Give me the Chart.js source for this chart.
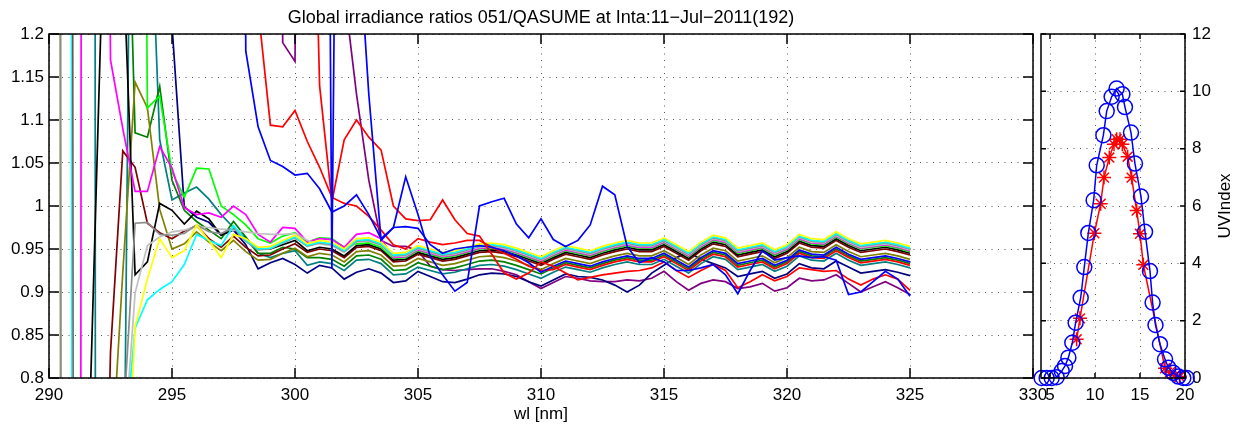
<!DOCTYPE html>
<html>
<head>
<meta charset="utf-8">
<script src="https://cdn.jsdelivr.net/npm/chart.js@4.4.0/dist/chart.umd.min.js"></script>
<style>
  html, body { margin: 0; padding: 0; background: #fff; }
  #wrap { position: relative; width: 1247px; height: 430px; overflow: hidden; }
  #main { position: absolute; left: 0; top: 0; }
  #uv { position: absolute; left: 1032px; top: 0; }
</style>
</head>
<body>
<div id="wrap">
  <canvas id="main" width="1060" height="430"></canvas>
  <canvas id="uv" width="215" height="430"></canvas>
</div>
<script>
// wavelength grid [nm]
const wl = [290, 290.5, 291, 291.5, 292, 292.5, 293, 293.5, 294, 294.5, 295, 295.5, 296, 296.5, 297, 297.5,
  298, 298.5, 299, 299.5, 300, 300.5, 301, 301.5, 302, 302.5, 303, 303.5, 304, 304.5, 305, 305.5,
  306, 306.5, 307, 307.5, 308, 308.5, 309, 309.5, 310, 310.5, 311, 311.5, 312, 312.5, 313, 313.5,
  314, 314.5, 315, 315.5, 316, 316.5, 317, 317.5, 318, 318.5, 319, 319.5, 320, 320.5, 321, 321.5,
  322, 322.5, 323, 323.5, 324, 324.5, 325];

// ratio series (values off the axis range are clipped)
const yellow = [0.5,0.5,0.5,0.5,0.5,0.5,0.55,0.86,0.915,0.962,0.94,0.948,0.978,0.96,0.94,0.967,
  0.962,0.952,0.953,0.960,0.966,0.956,0.960,0.958,0.950,0.962,0.963,0.958,0.945,0.946,0.954,0.950,0.946,0.948,0.952,0.956,0.957,0.955,0.951,0.946,0.941,0.948,0.954,0.951,0.948,0.953,0.957,0.960,0.957,0.957,0.963,0.955,0.947,0.958,0.966,0.963,0.951,0.954,0.957,0.949,0.955,0.967,0.962,0.961,0.970,0.962,0.956,0.958,0.960,0.957,0.953];
const cyan = [12,12,-1,0.3,0.3,0.3,0.7,0.858,0.891,0.903,0.912,0.932,0.967,0.96,0.954,0.977,
  0.960,0.950,0.951,0.958,0.964,0.954,0.958,0.956,0.948,0.960,0.961,0.956,0.943,0.944,0.952,0.948,0.944,0.946,0.950,0.954,0.955,0.953,0.949,0.944,0.939,0.946,0.952,0.949,0.946,0.951,0.955,0.958,0.955,0.955,0.961,0.953,0.945,0.956,0.964,0.961,0.949,0.952,0.955,0.947,0.953,0.965,0.960,0.959,0.968,0.960,0.954,0.956,0.958,0.955,0.951];
const gray = [19.8,-0.2,0.3,0.3,0.3,0.3,0.74,0.98,0.981,0.967,0.966,0.968,0.978,0.97,0.968,0.975,
  0.959,0.949,0.950,0.957,0.963,0.953,0.957,0.955,0.947,0.959,0.960,0.955,0.942,0.943,0.951,0.947,0.943,0.945,0.949,0.953,0.954,0.952,0.948,0.943,0.938,0.945,0.951,0.948,0.945,0.950,0.954,0.957,0.954,0.954,0.960,0.952,0.944,0.955,0.963,0.960,0.948,0.951,0.954,0.946,0.952,0.964,0.959,0.958,0.967,0.959,0.953,0.955,0.957,0.954,0.950];
const silver = [0.3,0.3,0.3,0.3,0.3,0.3,0.7,0.899,0.954,0.964,0.97,0.972,0.976,0.975,0.973,0.972,
  0.970,0.968,0.967,0.967,0.968,0.960,0.956,0.954,0.946,0.958,0.959,0.954,0.941,0.942,0.950,0.946,0.942,0.944,0.948,0.952,0.953,0.951,0.947,0.942,0.937,0.944,0.950,0.947,0.944,0.949,0.953,0.956,0.953,0.953,0.959,0.951,0.943,0.954,0.962,0.959,0.947,0.950,0.953,0.945,0.951,0.963,0.958,0.957,0.966,0.958,0.952,0.954,0.956,0.953,0.949];
const magenta = [-1,-1,-10,8.3,3,1.17,1.09,1.017,1.017,1.069,1.044,0.998,0.99,0.992,0.987,1.0,
  0.990,0.967,0.958,0.975,0.974,0.958,0.962,0.961,0.952,0.967,0.969,0.962,
  0.940,0.941,0.949,0.945,0.941,0.943,0.947,0.951,0.952,0.950,0.946,0.941,0.936,0.943,0.949,0.946,0.943,0.948,0.952,0.955,0.952,0.952,0.958,0.950,0.942,0.953,0.961,0.958,0.946,0.949,0.952,0.944,0.950,0.962,0.957,0.956,0.965,0.957,0.951,0.953,0.955,0.952,0.948];
const lime = [5,5,5,5,5,5,5,3,1.114,1.128,1.04,1.01,1.044,1.043,1.0,0.99,
  0.978,0.962,0.957,0.965,0.969,0.958,0.963,0.962,0.952,
  0.956,0.957,0.952,0.939,0.940,0.948,0.944,0.940,0.942,0.946,0.950,0.951,0.949,0.945,0.940,0.935,0.942,0.948,0.945,0.942,0.947,0.951,0.954,0.951,0.951,0.957,0.949,0.941,0.952,0.960,0.957,0.945,0.948,0.951,0.943,0.949,0.961,0.956,0.955,0.964,0.956,0.950,0.952,0.954,0.951,0.947];
const black = [0.3,0.3,0.3,0.6,1.1,1.6,1.3,0.92,0.935,1.003,0.995,0.979,0.994,0.985,0.966,0.973,
  0.962,0.950,0.950,0.955,0.960,
  0.948,0.952,0.950,0.942,0.954,0.955,0.950,0.937,0.938,0.946,0.942,0.938,0.940,0.944,0.948,0.949,0.947,0.943,0.938,0.933,0.940,0.946,0.943,0.940,0.945,0.949,0.952,0.949,0.949,0.955,0.947,0.939,0.950,0.958,0.955,0.943,0.946,0.949,0.941,0.947,0.959,0.954,0.953,0.962,0.954,0.948,0.950,0.952,0.949,0.945];
const maroon = [20,20,-0.5,-0.5,0.2,0.83,1.064,1.045,0.98,0.969,0.962,0.971,0.977,0.962,0.952,0.965,
  0.952,0.942,0.943,0.950,0.956,0.946,0.950,0.948,0.940,0.952,0.953,0.948,0.935,0.936,0.944,0.940,0.936,0.938,0.942,0.946,0.947,0.945,0.941,0.936,0.931,0.938,0.944,0.941,0.938,0.943,0.947,0.950,0.947,0.947,0.953,0.945,0.937,0.948,0.956,0.953,0.941,0.944,0.947,0.939,0.945,0.957,0.952,0.951,0.960,0.952,0.946,0.948,0.950,0.947,0.943];
const olive = [19.8,-0.2,-0.2,-0.2,-0.2,0.68,0.923,1.144,1.114,0.996,0.95,0.956,0.97,0.958,0.948,0.96,
  0.947,0.937,0.938,0.945,0.951,0.941,0.945,0.943,0.935,0.947,0.948,0.943,0.930,0.931,0.939,0.935,0.931,0.933,0.937,0.941,0.942,0.940,0.936,0.931,0.926,0.933,0.939,0.936,0.933,0.938,0.942,0.945,0.942,0.942,0.948,0.940,0.932,0.943,0.951,0.948,0.936,0.939,0.942,0.934,0.940,0.952,0.947,0.946,0.955,0.947,0.941,0.943,0.945,0.942,0.938];
const green = [5,5,5,5,5,5,1.6,1.085,1.08,1.139,1.03,0.995,0.982,0.972,0.962,0.982,
  0.964,0.945,0.945,0.952,0.950,0.940,
  0.940,0.938,0.930,0.942,0.943,0.938,0.925,0.926,0.934,0.930,0.926,0.928,0.932,0.936,0.937,0.935,0.931,0.926,0.921,0.928,0.934,0.931,0.928,0.933,0.937,0.940,0.937,0.937,0.943,0.935,0.927,0.938,0.946,0.943,0.931,0.934,0.937,0.929,0.935,0.947,0.942,0.941,0.950,0.942,0.936,0.938,0.940,0.937,0.933];
const teal = [20,20,20,20,-5,-1,0.5,2.0,1.45,1.077,1.007,1.015,1.022,1.008,0.99,0.975,
  0.962,0.945,0.940,0.945,0.948,
  0.931,0.935,0.933,0.925,0.937,0.938,0.933,0.920,0.921,0.929,0.925,0.921,0.923,0.927,0.931,0.932,0.930,0.926,0.921,0.916,0.923,0.929,0.926,0.923,0.928,0.932,0.935,0.932,0.932,0.938,0.930,0.922,0.933,0.941,0.938,0.926,0.929,0.932,0.924,0.930,0.942,0.937,0.936,0.945,0.937,0.931,0.933,0.935,0.932,0.928];
const navy = [3,3,3,3,3,3,3,3,3,3,1.21,0.999,0.987,0.981,0.966,0.972,
  0.955,0.927,0.934,0.939,0.932,0.922,0.931,0.928,0.915,0.923,0.927,0.922,0.911,0.913,0.924,
  0.918,0.912,0.911,0.915,0.920,0.922,0.921,0.918,0.912,0.907,0.914,0.921,0.918,0.917,0.914,
  0.908,0.900,0.908,0.922,0.931,0.940,0.946,0.938,0.933,0.928,0.918,0.921,0.924,0.916,0.921,
  0.933,0.928,0.927,0.936,0.929,0.922,0.924,0.926,0.923,0.919];
const purple = [3,3,3,3,3,3,3,3,3,3,3,3,3,3,3,3,3,3,3,
  1.19,1.168,3,3,3,1.25,1.13,1.03,0.96,0.953,0.953,0.948,0.93,0.926,0.925,0.926,0.927,0.927,0.924,0.92,0.912,0.904,
  0.911,0.918,0.916,0.913,0.912,0.912,0.914,0.913,0.916,0.924,0.912,0.902,0.91,0.914,0.912,
  0.904,0.906,0.91,0.901,0.905,0.916,0.913,0.914,0.92,0.91,0.9,0.906,0.912,0.905,0.897];
const blueA = [3,3,3,3,3,3,3,3,3,3,3,3,3,3,3,3,
  1.18,1.092,1.053,1.046,1.036,1.038,1.02,0.993,1.0,1.013,0.99,0.962,0.975,0.976,0.974,0.955,
  0.945,0.95,0.952,0.954,0.952,0.948,0.942,0.934,
  0.923,0.930,0.936,0.933,0.930,0.935,0.939,0.942,0.939,0.939,0.945,0.937,0.929,0.940,0.948,0.945,
  0.933,0.936,0.939,0.931,0.937,0.949,0.944,0.943,0.952,0.944,0.938,0.940,0.942,0.939,0.935];
const blueB = [3,3,3,3,3,3,3,3,3,3,3,3,3,3,3,3,3,3,3,3,3,3,3,
  0.927,2.5,1.35,1.13,0.96,0.975,1.034,0.99,0.941,0.92,0.901,0.911,1.0,1.005,1.009,
  0.979,0.963,0.985,0.961,0.953,0.96,0.978,1.023,1.013,0.953,0.934,0.94,0.935,0.925,0.925,
  0.928,0.932,0.92,0.898,0.925,0.948,0.937,0.94,0.942,0.94,0.941,0.937,0.897,0.9,0.912,
  0.924,0.915,0.895];
const red1 = [3,3,3,3,3,3,3,3,3,3,3,3,3,3,3,3,
  3,1.23,1.094,1.092,1.111,1.075,1.045,1.01,1.003,1.0,0.988,0.972,0.955,0.95,0.962,0.958,
  0.955,0.957,0.96,0.96,0.952,0.945,0.938,0.93,0.925,
  0.926,0.932,0.929,0.926,0.931,0.935,0.938,0.935,0.935,0.941,0.933,0.925,0.936,0.944,0.941,
  0.929,0.932,0.935,0.927,0.933,0.945,0.940,0.939,0.948,0.940,0.934,0.936,0.938,0.935,0.931];
const red2 = [3,3,3,3,3,3,3,3,3,3,3,3,3,3,3,3,3,3,3,3,3,
  1.7,1.14,1.005,1.077,1.1,1.08,1.065,1.0,0.985,0.983,0.984,1.007,0.984,0.968,0.965,
  0.944,0.922,0.915,0.922,0.935,0.93,0.922,0.914,0.917,0.92,0.922,0.924,0.925,0.928,0.935,
  0.925,0.917,0.925,0.932,0.925,0.905,0.912,0.92,0.913,0.918,0.928,0.926,0.924,0.925,0.915,
  0.908,0.915,0.92,0.915,0.902];

const xTicksMain = [290, 295, 300, 305, 310, 315, 320, 325, 330];
const yTicksMain = [0.8, 0.85, 0.9, 0.95, 1, 1.05, 1.1, 1.15, 1.2];

// UV index panel
const timeCirc = [4.07, 4.63, 5.19, 5.74, 6.30, 6.67, 7.04, 7.48, 7.85, 8.41, 8.81, 9.26, 9.85, 10.19, 10.93, 11.30, 11.85,
  12.40, 13.04, 13.33, 14.00, 14.44, 15.11, 15.56, 16.11, 16.40, 16.72, 17.22, 17.78, 18.15, 18.70, 19.26, 19.81, 20.19];
const uvCirc = [0, 0, 0, 0.03, 0.24, 0.42, 0.71, 1.23, 1.93, 2.8, 3.87, 5.06, 6.2, 7.42, 8.47, 9.31, 9.81,
  10.1, 9.9, 9.45, 8.56, 7.48, 6.33, 5.1, 3.73, 2.63, 1.85, 1.18, 0.65, 0.36, 0.18, 0.05, 0, 0];
const timeStar = [7.96, 8.33, 9.93, 10.63, 11.0, 11.59, 12.11, 12.4, 12.78, 13.04, 13.63, 14.07, 14.63, 15.0, 15.37, 17.78, 18.33, 18.9, 19.4];
const uvStar = [1.35, 2.08, 5.05, 6.08, 6.99, 7.69, 8.15, 8.33, 8.33, 8.15, 7.72, 6.99, 5.84, 5.03, 3.95, 0.34, 0.2, 0.1, 0.05];
const xTicksUV = [5, 10, 15, 20];
const yTicksUV = [0, 2, 4, 6, 8, 10, 12];

const FONT = "'Liberation Sans', Arial, sans-serif";

// MATLAB-like box with inward ticks
const boxTicks = {
  id: 'boxTicks',
  afterDraw(chart, args, opts) {
    const { ctx, chartArea: a, scales: { x, y } } = chart;
    ctx.save();
    ctx.strokeStyle = '#000';
    ctx.lineWidth = 1.5;
    ctx.beginPath();
    x.ticks.forEach(t => {
      const px = x.getPixelForValue(t.value);
      ctx.moveTo(px, a.bottom); ctx.lineTo(px, a.bottom - opts.len);
      ctx.moveTo(px, a.top); ctx.lineTo(px, a.top + opts.len);
    });
    y.ticks.forEach(t => {
      const py = y.getPixelForValue(t.value);
      ctx.moveTo(a.left, py); ctx.lineTo(a.left + opts.len, py);
      ctx.moveTo(a.right, py); ctx.lineTo(a.right - opts.len, py);
    });
    ctx.stroke();
    ctx.strokeRect(a.left, a.top, a.right - a.left, a.bottom - a.top);
    ctx.restore();
  }
};

// free text (title, rotated y label)
const extraText = {
  id: 'extraText',
  afterDraw(chart, args, opts) {
    const ctx = chart.ctx;
    (opts.items || []).forEach(it => {
      ctx.save();
      ctx.fillStyle = '#000';
      ctx.font = it.size + 'px ' + FONT;
      ctx.textAlign = 'center';
      ctx.textBaseline = it.baseline || 'alphabetic';
      ctx.translate(it.x, it.y);
      if (it.rot) ctx.rotate(it.rot);
      ctx.fillText(it.text, 0, 0);
      ctx.restore();
    });
  }
};

const gridOpts = { color: '#555', lineWidth: 1, drawTicks: false };
const borderOpts = { display: false, dash: [1, 5.5] };

function line(data, color) {
  return { data, borderColor: color, borderWidth: 1.7, pointRadius: 0, fill: false, tension: 0 };
}

new Chart(document.getElementById('main'), {
  type: 'line',
  data: {
    labels: wl,
    datasets: [
      line(blueB, '#0000ff'),
      line(red2, '#ff0000'),
      line(blueA, '#0000ff'),
      line(red1, '#ff0000'),
      line(yellow, '#ffff00'),
      line(cyan, '#00ffff'),
      line(gray, '#8c8c8c'),
      line(silver, '#c0c0c0'),
      line(magenta, '#ff00ff'),
      line(lime, '#00ff00'),
      line(black, '#000000'),
      line(maroon, '#800000'),
      line(olive, '#808000'),
      line(green, '#008000'),
      line(teal, '#008080'),
      line(navy, '#000080'),
      line(purple, '#800080')
    ]
  },
  options: {
    responsive: false,
    animation: false,
    layout: { padding: { top: 34, right: 27, bottom: 0, left: 0 } },
    plugins: {
      legend: { display: false },
      tooltip: { enabled: false },
      boxTicks: { len: 10 },
      extraText: { items: [
        { text: 'Global irradiance ratios 051/QASUME at Inta:11\u2212Jul\u22122011(192)', x: 541, y: 22.5, size: 18 }
      ] }
    },
    scales: {
      x: {
        type: 'linear', min: 290, max: 330,
        afterBuildTicks: s => { s.ticks = xTicksMain.map(v => ({ value: v })); },
        afterFit: s => { s.height = 52; },
        grid: gridOpts, border: borderOpts,
        ticks: { color: '#000', font: { family: FONT, size: 17 }, padding: 7, maxRotation: 0 },
        title: { display: true, text: 'wl [nm]', color: '#000', font: { family: FONT, size: 17 }, padding: { top: 0, bottom: 5 } }
      },
      y: {
        min: 0.8, max: 1.2,
        afterBuildTicks: s => { s.ticks = yTicksMain.map(v => ({ value: v })); },
        afterFit: s => { s.width = 49; },
        grid: gridOpts, border: borderOpts,
        ticks: { color: '#000', font: { family: FONT, size: 17 }, padding: 5, callback: v => String(+v.toFixed(2)) }
      }
    }
  },
  plugins: [boxTicks, extraText]
});

new Chart(document.getElementById('uv'), {
  type: 'line',
  data: {
    datasets: [
      {
        data: timeCirc.map((t, i) => ({ x: t, y: uvCirc[i] })),
        borderColor: '#0000ff', borderWidth: 1.5, fill: false, tension: 0, clip: false,
        pointStyle: 'circle', pointRadius: 7.5, pointBorderWidth: 1.5,
        pointBorderColor: '#0000ff', pointBackgroundColor: 'rgba(0,0,0,0)'
      },
      {
        data: timeStar.map((t, i) => ({ x: t, y: uvStar[i] })),
        borderColor: '#ff0000', borderWidth: 1.5, fill: false, tension: 0, clip: false,
        pointStyle: 'star', pointRadius: 7, pointBorderWidth: 1.5,
        pointBorderColor: '#ff0000', pointBackgroundColor: '#ff0000'
      }
    ]
  },
  options: {
    responsive: false,
    animation: false,
    layout: { padding: { top: 34, right: 0, bottom: 0, left: 9 } },
    plugins: {
      legend: { display: false },
      tooltip: { enabled: false },
      boxTicks: { len: 5 },
      extraText: { items: [
        { text: 'UVIndex', x: 193, y: 206, size: 17, rot: -Math.PI / 2, baseline: 'middle' }
      ] }
    },
    scales: {
      x: {
        type: 'linear', min: 4, max: 20,
        afterBuildTicks: s => { s.ticks = xTicksUV.map(v => ({ value: v })); },
        afterFit: s => { s.height = 52; },
        grid: gridOpts, border: borderOpts,
        ticks: { color: '#000', font: { family: FONT, size: 17 }, padding: 7, maxRotation: 0 }
      },
      y: {
        position: 'right', min: 0, max: 12,
        afterBuildTicks: s => { s.ticks = yTicksUV.map(v => ({ value: v })); },
        afterFit: s => { s.width = 62; },
        grid: gridOpts, border: borderOpts,
        ticks: { color: '#000', font: { family: FONT, size: 17 }, padding: 7 }
      }
    }
  },
  plugins: [boxTicks, extraText]
});
</script>
</body>
</html>
